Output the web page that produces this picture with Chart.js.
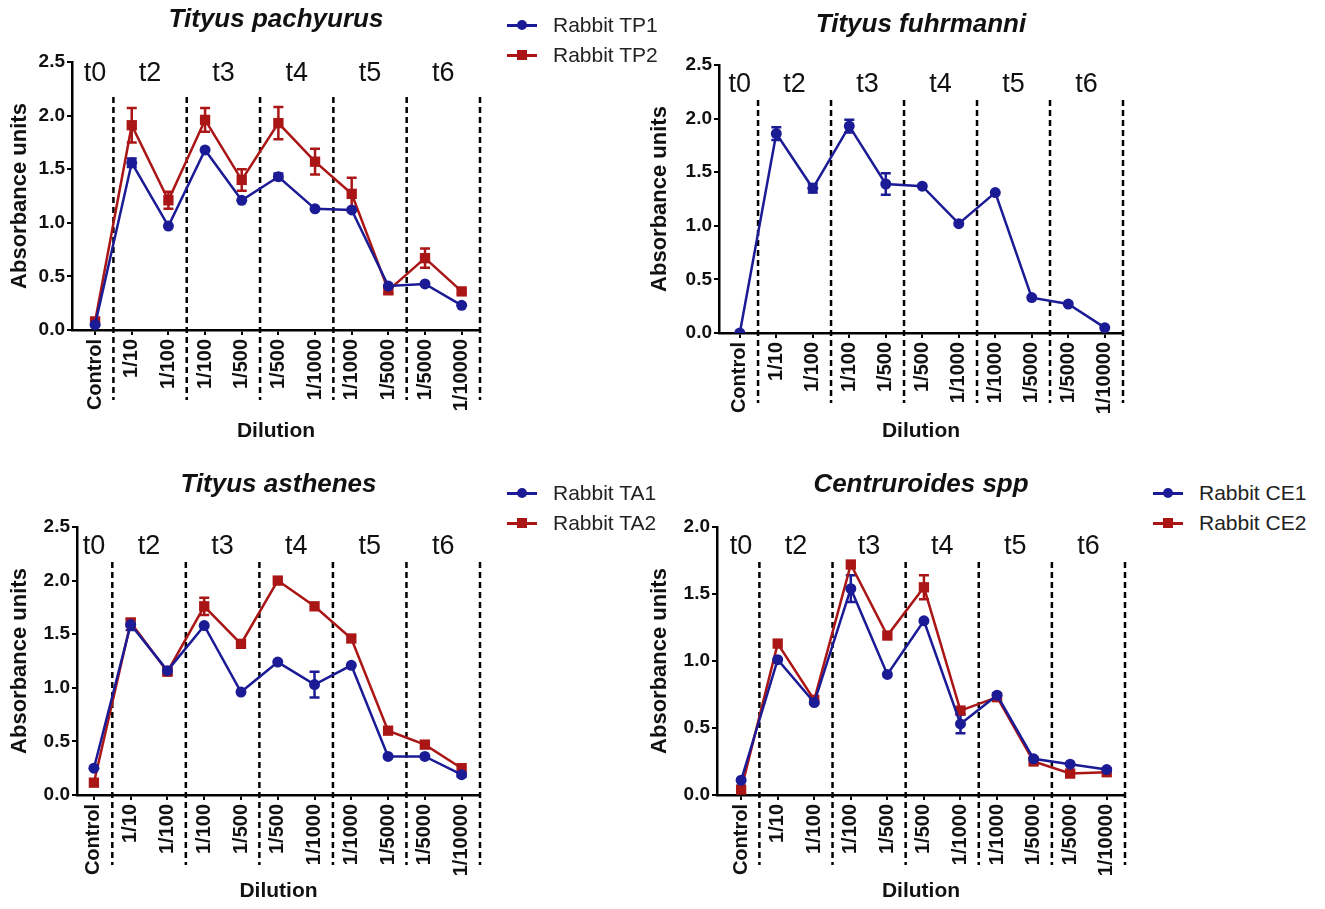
<!DOCTYPE html>
<html>
<head>
<meta charset="utf-8">
<script src="https://cdn.jsdelivr.net/npm/chart.js@4.4.1/dist/chart.umd.min.js"></script>
<style>
  html, body { margin: 0; padding: 0; background: #fff; width: 1325px; height: 909px; overflow: hidden;
    font-family: "Liberation Sans", Arial, sans-serif; }
  .panel { position: absolute; width: 500px; height: 450px; }
  .legend { position: absolute; font-size: 21px; color: #222; }
  .legend .row { display: flex; align-items: center; height: 30px; }
  .legend .sym { position: relative; width: 30px; height: 14px; margin-right: 16px; }
  .legend .sym i { position: absolute; left: 0; right: 0; top: 6px; height: 2.5px; }
  .legend .sym b { position: absolute; left: 10px; top: 2px; width: 10px; height: 10px; }
</style>
</head>
<body>
<div class="panel" style="left:0;top:0"><canvas id="c1" width="500" height="450"></canvas></div>
<div class="panel" style="left:640px;top:0"><canvas id="c2" width="500" height="450"></canvas></div>
<div class="panel" style="left:0;top:460px"><canvas id="c3" width="500" height="450"></canvas></div>
<div class="panel" style="left:640px;top:460px"><canvas id="c4" width="500" height="450"></canvas></div>
<div class="legend" id="lg1" style="left:507px;top:10px"></div>
<div class="legend" id="lg3" style="left:507px;top:478px"></div>
<div class="legend" id="lg4" style="left:1153px;top:478px"></div>

<script>
  // ---- 資料 ----
  const dilutions = ['Control', '1/10', '1/100', '1/100', '1/500', '1/500', '1/1000', '1/1000', '1/5000', '1/5000', '1/10000'];
  const timeLabels = ['t0', 't2', 't3', 't4', 't5', 't6'];
  const timeGroupSizes = [1, 2, 2, 2, 2, 2];

  const pachyurusTP1 = [0.05, 1.56, 0.97, 1.68, 1.21, 1.43, 1.13, 1.12, 0.41, 0.43, 0.23];
  const pachyurusTP1Err = [0, 0.04, 0, 0, 0, 0.03, 0, 0, 0, 0, 0];
  const pachyurusTP2 = [0.08, 1.91, 1.21, 1.96, 1.40, 1.93, 1.57, 1.27, 0.37, 0.67, 0.36];
  const pachyurusTP2Err = [0.03, 0.16, 0.08, 0.11, 0.10, 0.15, 0.12, 0.15, 0.03, 0.09, 0.02];

  const fuhrmanni = [0.00, 1.86, 1.35, 1.93, 1.39, 1.37, 1.02, 1.31, 0.33, 0.27, 0.05];
  const fuhrmanniErr = [0, 0.06, 0.04, 0.06, 0.10, 0, 0, 0, 0, 0, 0];

  const asthenesTA1 = [0.25, 1.59, 1.16, 1.58, 0.96, 1.24, 1.03, 1.21, 0.36, 0.36, 0.19];
  const asthenesTA1Err = [0, 0.05, 0.03, 0, 0, 0, 0.12, 0, 0, 0, 0.02];
  const asthenesTA2 = [0.115, 1.61, 1.15, 1.76, 1.41, 2.00, 1.76, 1.46, 0.60, 0.47, 0.25];
  const asthenesTA2Err = [0, 0, 0.03, 0.08, 0, 0, 0, 0, 0, 0, 0];

  const centruroidesCE1 = [0.11, 1.01, 0.69, 1.54, 0.90, 1.30, 0.53, 0.745, 0.27, 0.23, 0.19];
  const centruroidesCE1Err = [0, 0, 0, 0.10, 0, 0, 0.07, 0, 0, 0, 0];
  const centruroidesCE2 = [0.04, 1.13, 0.71, 1.72, 1.19, 1.55, 0.63, 0.73, 0.25, 0.16, 0.17];
  const centruroidesCE2Err = [0, 0, 0, 0, 0, 0.09, 0, 0, 0, 0, 0];

  const BLUE = '#1B1B95';
  const RED = '#AA1616';
  const FONT = '"Liberation Sans", Arial, sans-serif';
  Chart.defaults.font.family = FONT;
  Chart.defaults.color = '#111';

  // 分組虛線 + t 標籤
  const groupMarks = {
    id: 'groupMarks',
    beforeDatasetsDraw(chart, args, opts) {
      const { ctx, chartArea: a, scales: { x } } = chart;
      ctx.save();
      ctx.strokeStyle = '#000';
      ctx.lineWidth = 2.5;
      ctx.setLineDash([6, 4]);
      ctx.fillStyle = '#111';
      ctx.font = '27px ' + FONT;
      ctx.textAlign = 'center';
      ctx.textBaseline = 'middle';
      let start = 0;
      timeGroupSizes.forEach((n, g) => {
        const edge = x.getPixelForValue(start + n - 0.5);
        ctx.beginPath();
        ctx.moveTo(edge, a.top + 35);
        ctx.lineTo(edge, a.bottom + 70);
        ctx.stroke();
        ctx.fillText(timeLabels[g], x.getPixelForValue(start + (n - 1) / 2), a.top + (opts.labelOffset || 18));
        start += n;
      });
      ctx.restore();
    }
  };

  // 誤差線
  const errorBars = {
    id: 'errorBars',
    beforeDatasetsDraw(chart) {
      const { ctx, scales: { x, y } } = chart;
      chart.data.datasets.forEach(ds => {
        if (!ds.errors) return;
        ctx.save();
        ctx.strokeStyle = ds.borderColor;
        ctx.lineWidth = 2.5;
        ds.data.forEach((p, i) => {
          const e = ds.errors[i];
          if (!e) return;
          const px = x.getPixelForValue(p.x);
          const y0 = y.getPixelForValue(p.y - e), y1 = y.getPixelForValue(p.y + e);
          ctx.beginPath();
          ctx.moveTo(px, y0); ctx.lineTo(px, y1);
          ctx.moveTo(px - 5, y0); ctx.lineTo(px + 5, y0);
          ctx.moveTo(px - 5, y1); ctx.lineTo(px + 5, y1);
          ctx.stroke();
        });
        ctx.restore();
      });
    }
  };

  function panel(id, o) {
    const W = 500, H = 450, a = o.area;
    const lh = 26 * 1.2;
    const datasets = o.series.map(s => ({
      label: s.label,
      data: s.values.map((v, i) => ({ x: i, y: v })),
      errors: s.errors,
      borderColor: s.color,
      backgroundColor: s.color,
      pointStyle: s.marker,
      pointRadius: s.marker === 'rect' ? 7.3 : 5.5,
      pointBorderWidth: 0,
      borderWidth: 2.5,
      tension: 0,
      order: s.marker === 'rect' ? 1 : 0,
    }));
    new Chart(document.getElementById(id), {
      type: 'line',
      data: { datasets },
      options: {
        responsive: false,
        animation: false,
        layout: { padding: { left: 0, right: W - a.r, top: 0, bottom: 0 } },
        plugins: {
          legend: { display: false },
          tooltip: { enabled: false },
          groupMarks: { labelOffset: o.tOffset },
          title: {
            display: true, text: o.title, fullSize: false, color: '#111',
            font: { size: 26, weight: 'bold', style: 'italic' },
            padding: { top: o.titleY - lh / 2, bottom: a.t - lh - (o.titleY - lh / 2) },
          },
        },
        scales: {
          x: {
            type: 'linear', min: o.xMin, max: 10.5,
            afterBuildTicks: s => { s.ticks = dilutions.map((_, i) => ({ value: i })); },
            afterFit: s => { s.height = H - a.b; },
            ticks: {
              callback: v => dilutions[v], minRotation: 90, maxRotation: 90, autoSkip: false,
              color: '#111', font: { size: 20, weight: 'bold' }, padding: 4,
            },
            grid: { drawOnChartArea: false, drawTicks: true, tickLength: 5, color: '#000', lineWidth: 2 },
            border: { color: '#000', width: 2.5 },
            title: { display: true, text: 'Dilution', color: '#111', font: { size: 21, weight: 'bold' }, padding: { top: 0, bottom: 6 } },
          },
          y: {
            min: 0, max: o.yMax,
            afterFit: s => { s.width = a.l; },
            ticks: { stepSize: 0.5, callback: v => v.toFixed(1), color: '#111', font: { size: 19, weight: 'bold' }, padding: 2 },
            grid: { drawOnChartArea: false, drawTicks: true, tickLength: 5, color: '#000', lineWidth: 2 },
            border: { color: '#000', width: 2.5 },
            title: { display: true, text: 'Absorbance units', color: '#111', font: { size: 22, weight: 'bold' }, padding: { top: 7, bottom: 0 } },
          },
        },
      },
      plugins: [groupMarks, errorBars],
    });
  }

  function legend(id, series) {
    document.getElementById(id).innerHTML = series.map(s => `
      <div class="row"><span class="sym"><i style="background:${s.color}"></i>
      <b style="background:${s.color};border-radius:${s.marker === 'rect' ? '0' : '50%'}"></b></span>${s.label}</div>`).join('');
  }

  const tp = [
    { label: 'Rabbit TP1', values: pachyurusTP1, errors: pachyurusTP1Err, color: BLUE, marker: 'circle' },
    { label: 'Rabbit TP2', values: pachyurusTP2, errors: pachyurusTP2Err, color: RED, marker: 'rect' },
  ];
  const tf = [
    { label: 'Tityus fuhrmanni', values: fuhrmanni, errors: fuhrmanniErr, color: BLUE, marker: 'circle' },
  ];
  const ta = [
    { label: 'Rabbit TA1', values: asthenesTA1, errors: asthenesTA1Err, color: BLUE, marker: 'circle' },
    { label: 'Rabbit TA2', values: asthenesTA2, errors: asthenesTA2Err, color: RED, marker: 'rect' },
  ];
  const ce = [
    { label: 'Rabbit CE1', values: centruroidesCE1, errors: centruroidesCE1Err, color: BLUE, marker: 'circle' },
    { label: 'Rabbit CE2', values: centruroidesCE2, errors: centruroidesCE2Err, color: RED, marker: 'rect' },
  ];

  panel('c1', { title: 'Tityus pachyurus', series: tp, yMax: 2.5, xMin: -0.63, titleY: 20, tOffset: 12, area: { l: 72, r: 480, t: 62, b: 330 } });
  panel('c2', { title: 'Tityus fuhrmanni', series: tf, yMax: 2.5, xMin: -0.57, titleY: 25, tOffset: 20, area: { l: 79, r: 483, t: 65, b: 333 } });
  panel('c3', { title: 'Tityus asthenes', series: ta, yMax: 2.5, xMin: -0.46, titleY: 25, tOffset: 20, area: { l: 77, r: 480, t: 67, b: 335 } });
  panel('c4', { title: 'Centruroides spp', series: ce, yMax: 2.0, xMin: -0.66, titleY: 25, tOffset: 20, area: { l: 77, r: 485, t: 67, b: 335 } });

  legend('lg1', tp);
  legend('lg3', ta);
  legend('lg4', ce);
</script>
</body>
</html>
